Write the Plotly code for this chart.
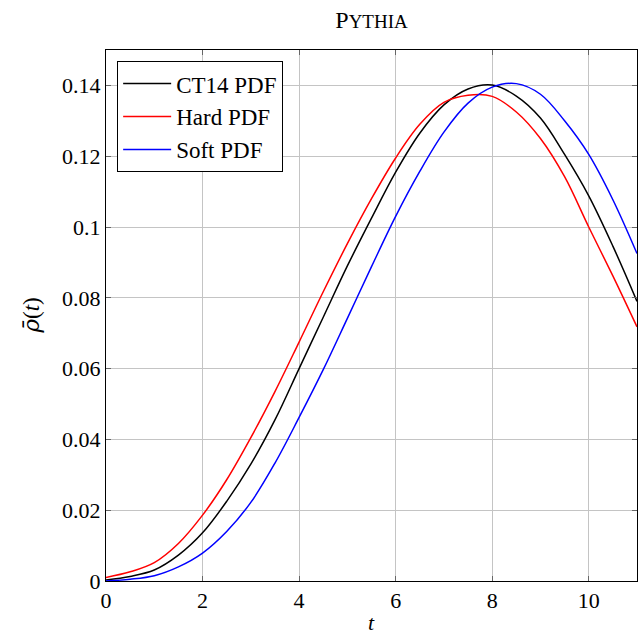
import plotly.graph_objects as go

t_grid = [0, 0.5, 1, 1.5, 2, 2.5, 3, 3.5, 4, 4.5, 5, 5.5, 6, 6.5, 7, 7.5, 8, 8.5, 9, 9.5, 10, 10.5, 11]

ct14_v = [0.0003, 0.0013, 0.0031, 0.0073, 0.0136, 0.0225, 0.033, 0.0455, 0.060, 0.0745, 0.089, 0.1025,
          0.1155, 0.1265, 0.1345, 0.1390, 0.1401, 0.1370, 0.1308, 0.1205, 0.1088, 0.0946, 0.079]

hard_v = [0.0010, 0.0026, 0.0052, 0.0106, 0.0186, 0.0286, 0.0405, 0.0535, 0.0675, 0.0817, 0.0953, 0.1080,
          0.1195, 0.1290, 0.1352, 0.1372, 0.1369, 0.1325, 0.1250, 0.1142, 0.1000, 0.0862, 0.0718]

soft_v = [0.0000, 0.0005, 0.0015, 0.0040, 0.0079, 0.0140, 0.0222, 0.0333, 0.0462, 0.0597, 0.0742, 0.0888,
          0.1030, 0.1157, 0.1268, 0.1350, 0.1395, 0.1405, 0.1375, 0.1300, 0.1205, 0.1077, 0.0925]

x_ticks = [0, 2, 4, 6, 8, 10]
y_ticks = [0, 0.02, 0.04, 0.06, 0.08, 0.1, 0.12, 0.14]
y_tick_labels = ["0", "0.02", "0.04", "0.06", "0.08", "0.1", "0.12", "0.14"]

FONT = "Liberation Serif"
L, R, T, B = 106, 637, 50, 581
W, H = 644, 637
pw, ph = R - L, B - T

fig = go.Figure()
for name, v, c in [("CT14 PDF", ct14_v, "black"),
                   ("Hard PDF", hard_v, "red"),
                   ("Soft PDF", soft_v, "blue")]:
    fig.add_trace(go.Scatter(x=t_grid, y=v, mode="lines", name=name,
                             line=dict(color=c, width=1.5, shape="spline", smoothing=1.0)))

axis_common = dict(showgrid=True, gridcolor="#c4c4c4", gridwidth=1,
                   showline=True, linecolor="black", linewidth=1, mirror="ticks",
                   ticks="inside", ticklen=5, tickcolor="#666", zeroline=False,
                   automargin=False,
                   tickfont=dict(family=FONT, size=22, color="black"))

fig.update_layout(
    width=W, height=H,
    margin=dict(l=L, r=W - R, t=T, b=H - B),
    paper_bgcolor="white", plot_bgcolor="white",
    font=dict(family=FONT, color="black"),
    title=dict(text='P<span style="font-size:19px">YTHIA</span>', x=(L + R) / 2 / W,
               xanchor="center", y=1 - 20 / H, yanchor="middle",
               font=dict(family=FONT, size=24, color="black")),
    xaxis=dict(range=[0, 11], tickvals=x_ticks, ticktext=[str(v) for v in x_ticks], **axis_common),
    yaxis=dict(range=[0, 0.15], tickvals=y_ticks, ticktext=y_tick_labels, **axis_common),
    legend=dict(x=0.021, y=0.979, xanchor="left", yanchor="top",
                bgcolor="white", bordercolor="black", borderwidth=1,
                font=dict(family=FONT, size=23, color="black"),
                itemwidth=48, tracegroupgap=0),
    showlegend=True,
    annotations=[
        dict(text="<i>t</i>", xref="paper", yref="paper", x=0.5, y=(B - 637) / ph,
             xanchor="center", yanchor="bottom", showarrow=False,
             font=dict(family=FONT, size=22, color="black")),
        dict(text="<span style=\"font-family:'DejaVu Serif'\"><i>ρ̄</i></span>(<i>t</i>)",
             xref="paper", yref="paper", x=(30 - L) / pw, y=0.5, textangle=-90,
             xanchor="center", yanchor="middle", showarrow=False,
             font=dict(family=FONT, size=23, color="black")),
    ],
)

fig.write_html("out.html")
